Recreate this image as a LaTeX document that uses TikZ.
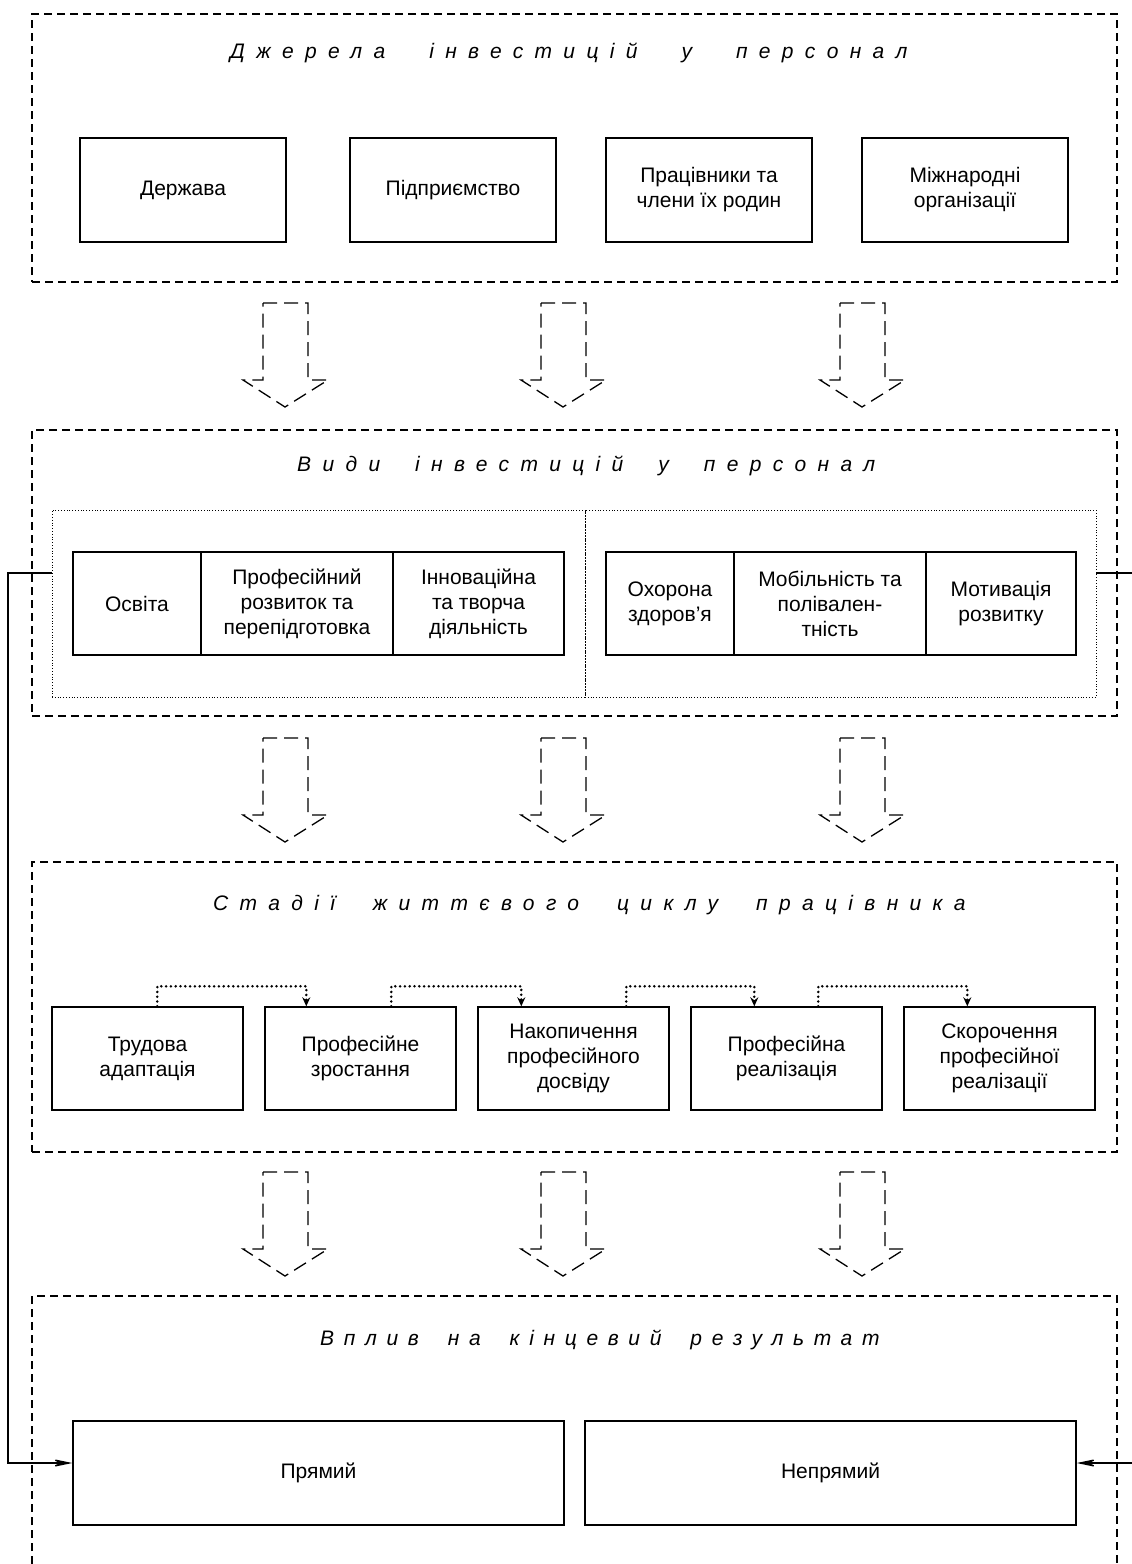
\documentclass[tikz,border=0pt]{standalone}
\usepackage{fontspec}
\setmainfont{Liberation Sans}
\usetikzlibrary{arrows.meta,calc}
\newcommand{\wg}[1]{\hspace{#1pt}}
\begin{document}
\begin{tikzpicture}[x=1pt,y=-1pt,
 frame/.style={draw, line width=1.3pt, dash pattern=on 8pt off 5pt, inner sep=0pt},
 bx/.style={draw, line width=1.4pt, align=center, font=\fontsize{21}{25}\selectfont, inner sep=0pt},
 bigarrow/.style={draw, line width=1.3pt, dash pattern=on 14pt off 7pt},
 dotbox/.style={draw, line width=0.8pt, dotted, inner sep=0pt},
 dotconn/.style={line width=2.8pt, line cap=round, dash pattern=on 0pt off 4.8pt, -{Stealth[length=9pt,width=8pt,inset=3pt,line cap=butt]}},
 link/.style={line width=1.4pt},
 tip/.style={-{Stealth[length=24pt,width=10pt,inset=12pt]}},
 title/.style={font=\fontsize{21}{25}\selectfont\itshape\addfontfeatures{LetterSpace=54}, anchor=base west, inner sep=0pt},
 titleb/.style={font=\fontsize{21}{25}\selectfont\itshape\addfontfeatures{LetterSpace=46}, anchor=base west, inner sep=0pt}
]
\useasboundingbox (0,0) rectangle (1132,1564);

% frames
\node[frame, minimum width=1085pt, minimum height=268pt] (f1) at (574.5,148) {};
\node[frame, minimum width=1085pt, minimum height=286pt] (f2) at (574.5,573) {};
\node[frame, minimum width=1085pt, minimum height=290pt] (f3) at (574.5,1007) {};
\draw[line width=1.3pt, dash pattern=on 8pt off 5pt] (32,1564) -- (32,1296) -- (1117,1296) -- (1117,1564);

% titles
\node[title] (t1) at (230,58) {Джерела\wg{44}інвестицій\wg{44}у\wg{44}персонал};
\node[title] (t2) at (297,471) {Види\wg{35}інвестицій\wg{35}у\wg{35}персонал};
\node[title] (t3) at (213,910) {Стадії\wg{38}життєвого\wg{38}циклу\wg{38}працівника};
\node[titleb] (t4) at (320,1345) {Вплив\wg{29}на\wg{29}кінцевий\wg{29}результат};

% row 1
\node[bx, minimum width=206pt, minimum height=104pt] (a1) at (183,190) {Держава};
\node[bx, minimum width=206pt, minimum height=104pt] (a2) at (453,190) {Підприємство};
\node[bx, minimum width=206pt, minimum height=104pt] (a3) at (709,190) {Працівники та\\члени їх родин};
\node[bx, minimum width=206pt, minimum height=104pt] (a4) at (965,190) {Міжнародні\\організації};

% inner dotted boxes
\node[dotbox, minimum width=533pt, minimum height=187pt] (d1) at (318.5,603.5) {};
\node[dotbox, minimum width=511pt, minimum height=187pt] (d2) at (840.5,603.5) {};

% row 2
\node[bx, minimum width=128pt, minimum height=103pt] (b1) at (137,603.5) {Освіта};
\node[bx, minimum width=192pt, minimum height=103pt] (b2) at (297,603.5) {Професійний\\розвиток та\\перепідготовка};
\node[bx, minimum width=171pt, minimum height=103pt] (b3) at (478.5,603.5) {Інноваційна\\та творча\\діяльність};
\node[bx, minimum width=128pt, minimum height=103pt] (b4) at (670,603.5) {Охорона\\здоров’я};
\node[bx, minimum width=192pt, minimum height=103pt] (b5) at (830,603.5) {Мобільність та\\полівален-\\тність};
\node[bx, minimum width=150pt, minimum height=103pt] (b6) at (1001,603.5) {Мотивація\\розвитку};

% row 3
\node[bx, minimum width=191pt, minimum height=103pt] (c1) at (147.5,1058.5) {Трудова\\адаптація};
\node[bx, minimum width=191pt, minimum height=103pt] (c2) at (360.5,1058.5) {Професійне\\зростання};
\node[bx, minimum width=191pt, minimum height=103pt] (c3) at (573.5,1058.5) {Накопичення\\професійного\\досвіду};
\node[bx, minimum width=191pt, minimum height=103pt] (c4) at (786.5,1058.5) {Професійна\\реалізація};
\node[bx, minimum width=191pt, minimum height=103pt] (c5) at (999.5,1058.5) {Скорочення\\професійної\\реалізації};

% row 4
\node[bx, minimum width=491pt, minimum height=104pt] (e1) at (318.5,1473) {Прямий};
\node[bx, minimum width=491pt, minimum height=104pt] (e2) at (830.5,1473) {Непрямий};

% big arrows
\foreach \t in {303,738,1172}{
  \foreach \c in {285,563,862}{
    \draw[bigarrow] (\c-22,\t) -- (\c+23,\t) -- (\c+23,\t+77) -- (\c+43,\t+77) -- (\c,\t+104) -- (\c-42,\t+77) -- (\c-22,\t+77) -- cycle;
  }
}

% dotted connectors
\draw[dotconn] ([xshift=106pt]c1.north west) -- ++(0,-20) -| ([xshift=42pt]c2.north west);
\draw[dotconn] ([xshift=127pt]c2.north west) -- ++(0,-20) -| ([xshift=44pt]c3.north west);
\draw[dotconn] ([xshift=149pt]c3.north west) -- ++(0,-20) -| ([xshift=64pt]c4.north west);
\draw[dotconn] ([xshift=128pt]c4.north west) -- ++(0,-20) -| ([xshift=64pt]c5.north west);

% side links
\coordinate (LT) at (8,573);
\coordinate (LB) at (8,1463);
\coordinate (RT) at (1132,573);
\coordinate (RB) at (1132,1463);
\draw[link, tip] ([yshift=30.5pt]d1.west) -- (LT) -- (LB) -- ([yshift=10pt]e1.west);
\draw[link] ([yshift=30.5pt]d2.east) -- (RT);
\draw[link, tip] (RB) -- ([yshift=10pt]e2.east);
\end{tikzpicture}
\end{document}
